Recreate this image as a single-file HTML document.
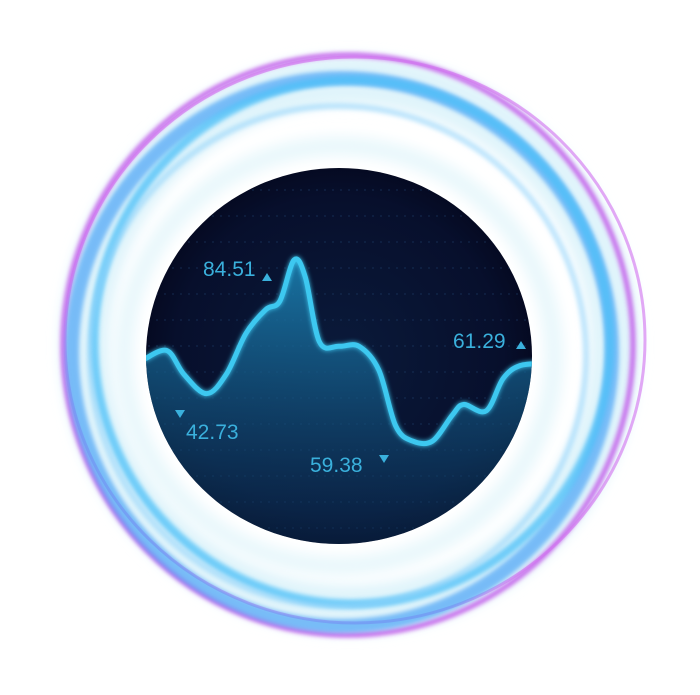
<!DOCTYPE html>
<html><head><meta charset="utf-8"><style>
html,body{margin:0;padding:0;background:#fff;}
svg{display:block;}
text{font-family:"Liberation Sans",sans-serif;}
</style></head><body>
<svg width="700" height="695" viewBox="0 0 700 695">
<defs>
<filter id="blur6"><feGaussianBlur stdDeviation="6"/></filter>
<filter id="blur2"><feGaussianBlur stdDeviation="2"/></filter>
<filter id="glow"><feGaussianBlur stdDeviation="2.5" result="b"/><feMerge><feMergeNode in="b"/><feMergeNode in="SourceGraphic"/></feMerge></filter>
<radialGradient id="disc" cx="50%" cy="50%" r="50%">
<stop offset="0%" stop-color="#0a1a3a"/><stop offset="85%" stop-color="#070f2c"/><stop offset="100%" stop-color="#050a22"/>
</radialGradient>
<linearGradient id="area" x1="0" y1="0" x2="0" y2="1">
<stop offset="0%" stop-color="#1b7fb0" stop-opacity="0.9"/><stop offset="100%" stop-color="#0b2c52" stop-opacity="0.4"/>
</linearGradient>
<clipPath id="discClip"><ellipse cx="339" cy="356" rx="193" ry="188"/></clipPath>
</defs>
<g>
<ellipse cx="350" cy="345" rx="265" ry="265" fill="none" stroke="#e0f4fb" stroke-width="50" filter="url(#blur6)"/>
<ellipse cx="348" cy="345" rx="285" ry="290" fill="none" stroke="#c050e8" stroke-width="5" opacity="0.85" filter="url(#blur2)"/>
<ellipse cx="355" cy="340" rx="290" ry="283" fill="none" stroke="#d070ee" stroke-width="3" opacity="0.6"/>
<ellipse cx="342" cy="352" rx="270" ry="274" fill="none" stroke="#3f9ef5" stroke-width="14" opacity="0.65" filter="url(#blur2)"/>
<ellipse cx="352" cy="342" rx="258" ry="262" fill="none" stroke="#4cc0f8" stroke-width="9" opacity="0.75" filter="url(#blur2)"/>
<ellipse cx="338" cy="356" rx="248" ry="250" fill="none" stroke="#8fd2fa" stroke-width="6" opacity="0.55" filter="url(#blur2)"/>
<ellipse cx="339" cy="356" rx="215" ry="210" fill="none" stroke="#eaf8fc" stroke-width="20" filter="url(#blur6)"/>
</g>
<ellipse cx="339" cy="356" rx="193" ry="188" fill="url(#disc)"/>
<g clip-path="url(#discClip)" id="plot"></g>
</svg>
<script>
const xs=[-2,6,12,20,27,34,41,46,51,55,60,67,74,81,87,93,100,107,111,119,125,131,140];
const values=[63,67,56,47,56,75,86,90,109,101,71,69,69,58,32,25,25,37,42,39,54,60,61];
const labels=["84.51","42.73","59.38","61.29"];
const labelPos=[[203,276],[186,439],[310,472],[453,348]];
const svg=document.getElementById('plot');
const NS='http://www.w3.org/2000/svg';
const X=v=>150+v*(370/131), Y=v=>495-v*(235/109);
const pts=xs.map((x,i)=>[X(x),Y(values[i])]);
function curve(p){let d=`M${p[0][0]},${p[0][1]}`;for(let i=0;i<p.length-1;i++){const p0=p[i-1]||p[i],p1=p[i],p2=p[i+1],p3=p[i+2]||p2;d+=` C${p1[0]+(p2[0]-p0[0])/6},${p1[1]+(p2[1]-p0[1])/6} ${p2[0]-(p3[0]-p1[0])/6},${p2[1]-(p3[1]-p1[1])/6} ${p2[0]},${p2[1]}`;}return d;}
for(let gy=190;gy<540;gy+=26){const l=document.createElementNS(NS,'line');


l.setAttribute('x1',140);l.setAttribute('x2',540);l.setAttribute('y1',gy);l.setAttribute('y2',gy);l.setAttribute('stroke','#1f3f6a');l.setAttribute('stroke-dasharray','2 6');l.setAttribute('opacity','0.6');svg.appendChild(l);}
const line=curve(pts);
const area=document.createElementNS(NS,'path');


area.setAttribute('d',line+` L${pts[pts.length-1][0]},560 L${pts[0][0]},560 Z`);area.setAttribute('fill','url(#area)');svg.appendChild(area);
const ln=document.createElementNS(NS,'path');


ln.setAttribute('d',line);ln.setAttribute('fill','none');ln.setAttribute('stroke','#3cc8f0');ln.setAttribute('stroke-width','5');ln.setAttribute('filter','url(#glow)');svg.appendChild(ln);
labels.forEach((t,i)=>{const tx=document.createElementNS(NS,'text');


tx.setAttribute('x',labelPos[i][0]);tx.setAttribute('y',labelPos[i][1]);tx.setAttribute('fill','#3ab0dc');tx.setAttribute('font-size','21');tx.textContent=t;svg.appendChild(tx);});
[[267,281,1],[180,410,0],[384,455,0],[521,349,1]].forEach(([x,y,u])=>{const m=document.createElementNS(NS,'path');


m.setAttribute('d',u?`M${x-5},${y} L${x+5},${y} L${x},${y-8}Z`:`M${x-5},${y} L${x+5},${y} L${x},${y+8}Z`);m.setAttribute('fill','#3ab0dc');svg.appendChild(m);});
</script>
</body></html>
